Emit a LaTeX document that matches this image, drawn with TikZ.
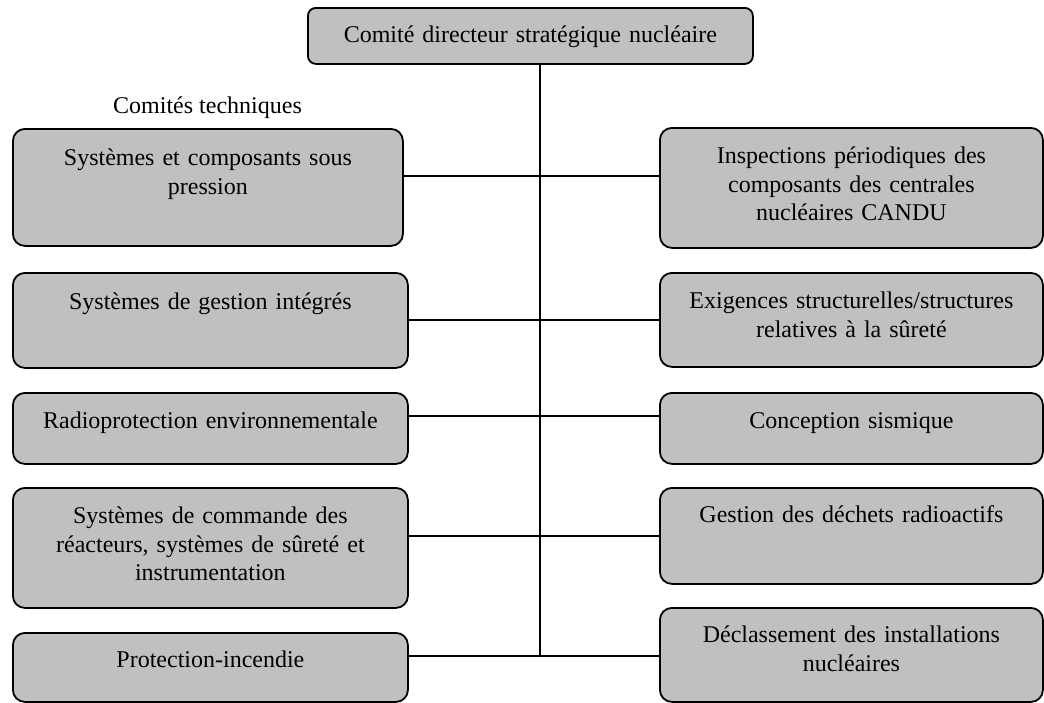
\documentclass[tikz,border=0pt]{standalone}
\usepackage{fontspec}
\setmainfont{Liberation Serif}
\definecolor{boxgray}{HTML}{C0C0C0}
\begin{document}
\begin{tikzpicture}[x=1pt,y=-1pt,
  box/.style={draw=black, fill=boxgray, line width=1.8pt, rounded corners=12pt,
    inner sep=0pt, align=center, anchor=north west,
    font=\fontsize{24}{28.5}\selectfont},
  conn/.style={draw=black, line width=1.8pt},
  lbl/.style={font=\fontsize{24}{28.5}\selectfont, inner sep=0pt}
  ]
\useasboundingbox (0,0) rectangle (1044,702);
% top
\node[box, rounded corners=8pt, text width=445pt, text height=35pt, text depth=21pt] (top) at (307,7)
  {Comité directeur stratégique nucléaire};
\node[lbl, anchor=base west] (ct) at (113,113) {Comités techniques};
% left column
\node[box, text width=390pt, text height=37pt, text depth=80pt] (L1) at (12,128)
  {Systèmes et composants sous\\pression};
\node[box, text width=395pt, text height=37pt, text depth=58pt] (L2) at (12,272)
  {Systèmes de gestion intégrés};
\node[box, text width=395pt, text height=36pt, text depth=35pt] (L3) at (12,392)
  {Radioprotection environnementale};
\node[box, text width=395pt, text height=36pt, text depth=84pt] (L4) at (12,487)
  {Systèmes de commande des\\réacteurs, systèmes de sûreté et\\instrumentation};
\node[box, text width=395pt, text height=35pt, text depth=34pt] (L5) at (12,632)
  {Protection-incendie};
% right column
\node[box, text width=383pt, text height=36pt, text depth=84pt] (R1) at (659,127)
  {Inspections périodiques des\\composants des centrales\\nucléaires CANDU};
\node[box, text width=383pt, text height=36pt, text depth=58pt] (R2) at (659,272)
  {Exigences structurelles/structures\\relatives à la sûreté};
\node[box, text width=383pt, text height=36pt, text depth=35pt] (R3) at (659,392)
  {Conception sismique};
\node[box, text width=383pt, text height=35pt, text depth=61pt] (R4) at (659,487)
  {Gestion des déchets radioactifs};
\node[box, text width=383pt, text height=35pt, text depth=59pt] (R5) at (659,607)
  {Déclassement des installations\\nucléaires};
% junctions on the trunk
\coordinate (j1) at (540,176);
\coordinate (j2) at (540,320);
\coordinate (j3) at (540,416);
\coordinate (j4) at (540,536);
\coordinate (j5) at (540,656);
\draw[conn] (top.south -| j1) -- (j5);
\draw[conn] (L1.east |- j1) -- (R1.west |- j1);
\draw[conn] (L2.east |- j2) -- (R2.west |- j2);
\draw[conn] (L3.east |- j3) -- (R3.west |- j3);
\draw[conn] (L4.east |- j4) -- (R4.west |- j4);
\draw[conn] (L5.east |- j5) -- (R5.west |- j5);
\end{tikzpicture}
\end{document}
